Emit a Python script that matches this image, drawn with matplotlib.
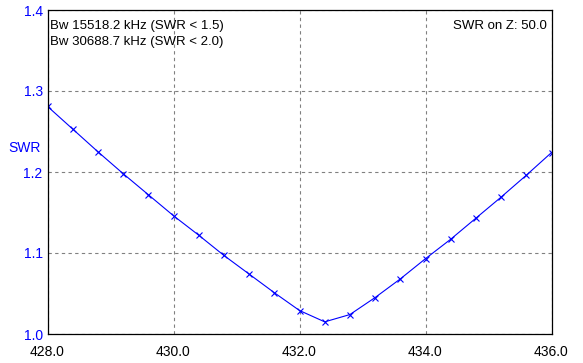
import matplotlib
matplotlib.use("Agg")
import matplotlib.pyplot as plt
import numpy as np

# frequency sweep (MHz) and measured SWR
freq = [428.0, 428.4, 428.8, 429.2, 429.6, 430.0, 430.4, 430.8, 431.2, 431.6,
        432.0, 432.4, 432.8, 433.2, 433.6, 434.0, 434.4, 434.8, 435.2, 435.6, 436.0]
swr = [1.281, 1.253, 1.225, 1.198, 1.172, 1.146, 1.122, 1.097, 1.074, 1.051,
       1.029, 1.015, 1.024, 1.045, 1.068, 1.093, 1.117, 1.143, 1.169, 1.196, 1.224]

x_ticks = [428.0, 430.0, 432.0, 434.0, 436.0]
y_ticks = [1.0, 1.1, 1.2, 1.3, 1.4]

bw_lines = ["Bw 15518.2 kHz (SWR < 1.5)", "Bw 30688.7 kHz (SWR < 2.0)"]
z_text = "SWR on Z: 50.0"

plt.rcParams['font.family'] = ['Liberation Sans', 'DejaVu Sans']

W, H = 583, 363
fig = plt.figure(figsize=(W / 100, H / 100), dpi=100)
ax = fig.add_axes([47.5 / W, 1 - 334 / H, 504 / W, 324 / H])

ax.plot(freq, swr, color='#0000ff', linewidth=0.8, marker='x',
        markersize=4.5, markeredgewidth=0.8)

ax.set_xlim(428, 436)
ax.set_ylim(1.0, 1.4)
ax.set_xticks(x_ticks)
ax.set_xticklabels([f"{v:.1f}" for v in x_ticks])
ax.set_yticks(y_ticks)
ax.set_yticklabels([f"{v:.1f}" for v in y_ticks])

ax.tick_params(axis='x', length=0, pad=8, labelsize=10, colors='black')
ax.tick_params(axis='y', length=0, pad=3.5, labelsize=10, labelcolor='#0000ff')

ax.grid(True, color='#808080', linestyle=(0, (3, 3)), linewidth=0.8)
for s in ax.spines.values():
    s.set_linewidth(0.9)
    s.set_color('black')

# annotations
fig.text(50 / W, 1 - 25.5 / H, bw_lines[0], ha='left', va='center', fontsize=9.5)
fig.text(50 / W, 1 - 42 / H, bw_lines[1], ha='left', va='center', fontsize=9.5)
fig.text(547 / W, 1 - 26 / H, z_text, ha='right', va='center', fontsize=9.5)
fig.text(8 / W, 1 - 148 / H, "SWR", ha='left', va='center', fontsize=10,
         color='#0000ff')

fig.savefig("out.png", dpi=100)
